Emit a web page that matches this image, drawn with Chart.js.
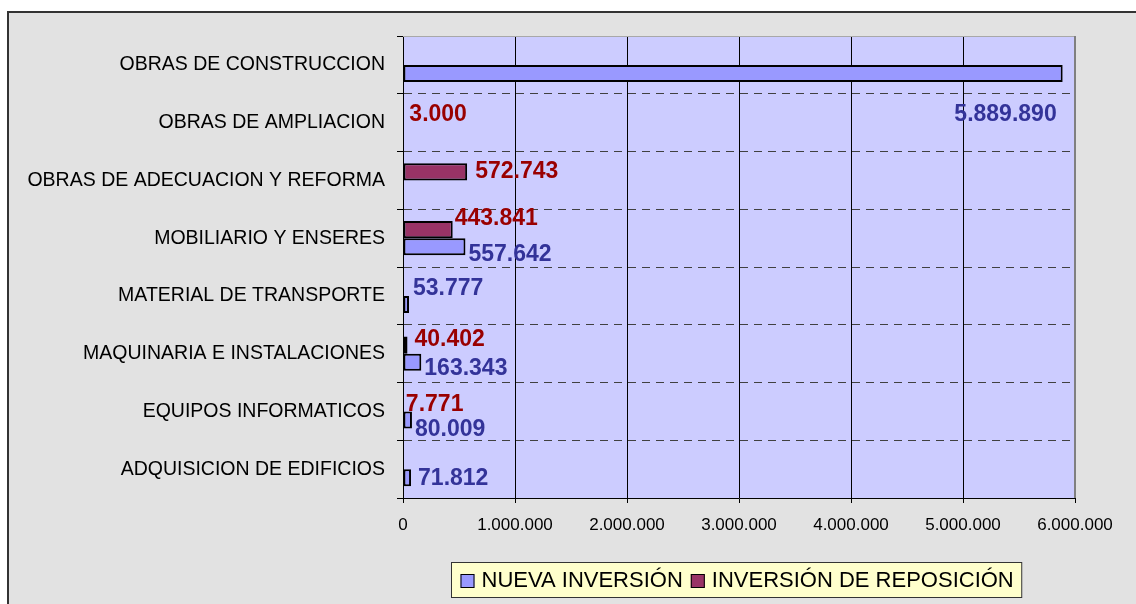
<!DOCTYPE html>
<html><head><meta charset="utf-8">
<script src="https://cdn.jsdelivr.net/npm/chart.js@4.4.1/dist/chart.umd.min.js"></script>
<style>html,body{margin:0;padding:0;background:#fff;overflow:hidden}canvas{display:block}</style>
</head><body>
<canvas id="c" width="1136" height="604"></canvas>
<script>
// ---- data ----
const categories = [
  'OBRAS DE CONSTRUCCION',
  'OBRAS DE AMPLIACION',
  'OBRAS DE ADECUACION Y REFORMA',
  'MOBILIARIO Y ENSERES',
  'MATERIAL DE TRANSPORTE',
  'MAQUINARIA E INSTALACIONES',
  'EQUIPOS INFORMATICOS',
  'ADQUISICION DE EDIFICIOS'
];
const nuevaInversion = [5889890, null, null, 557642, 53777, 163343, 80009, 71812];
const inversionReposicion = [null, 3000, 572743, 443841, null, 40402, 7771, null];
const xTickValues = [0, 1000000, 2000000, 3000000, 4000000, 5000000, 6000000];
const seriesNames = ['NUEVA INVERSIÓN', 'INVERSIÓN DE REPOSICIÓN'];

// ---- helpers ----
const FONT = '"Liberation Sans", Arial, Helvetica, sans-serif';
function fmt(v) { return String(v).replace(/\B(?=(\d{3})+(?!\d))/g, '.'); }

// label nudges (dx from bar end, dy from bar centre, alignment) per dataset
const labelNudges = {
  repos: [[6,0,'left'],[6,1,'left'],[8,0,'left'],[2,-11,'left'],[6,0,'left'],[7,-5,'left'],[2,2,'left'],[6,0,'left']],
  nueva: [[-6,41,'right'],[6,0,'left'],[6,0,'left'],[3,8,'left'],[4,-16,'left'],[3,7,'left'],[3,10,'left'],[7,1,'left']]
};

const framePlugin = {
  id: 'frame',
  beforeDraw(chart) {
    const ctx = chart.ctx, a = chart.chartArea;
    ctx.save();
    ctx.fillStyle = '#ffffff';
    ctx.fillRect(0, 0, chart.width, chart.height);
    ctx.fillStyle = '#e2e2e2';
    ctx.fillRect(8, 11, chart.width - 8, chart.height - 11);
    ctx.strokeStyle = '#333333';
    ctx.lineWidth = 2;
    ctx.beginPath();
    ctx.moveTo(8, chart.height);
    ctx.lineTo(8, 12);
    ctx.lineTo(chart.width, 12);
    ctx.stroke();
    ctx.fillStyle = '#ccccff';
    ctx.fillRect(a.left, a.top, a.right - a.left, a.bottom - a.top);
    ctx.restore();
  },
  afterDraw(chart) {
    const ctx = chart.ctx, a = chart.chartArea;
    ctx.save();
    ctx.strokeStyle = '#a8a8a8';
    ctx.lineWidth = 1;
    ctx.beginPath();
    ctx.moveTo(a.left, a.top + 0.5);
    ctx.lineTo(a.right, a.top + 0.5);
    ctx.stroke();
    ctx.strokeStyle = '#808080';
    ctx.lineWidth = 2;
    ctx.beginPath();
    ctx.moveTo(a.right, a.top);
    ctx.lineTo(a.right, a.bottom);
    ctx.stroke();
    ctx.restore();
  }
};

const valueLabelPlugin = {
  id: 'valueLabels',
  afterDatasetsDraw(chart) {
    const ctx = chart.ctx;
    ctx.save();
    ctx.font = 'bold 23px ' + FONT;
    ctx.textBaseline = 'middle';
    chart.data.datasets.forEach((ds, di) => {
      const meta = chart.getDatasetMeta(di);
      const nudges = labelNudges[ds.key];
      meta.data.forEach((el, i) => {
        const v = ds.data[i];
        if (v === null || v === undefined) return;
        const n = nudges[i];
        ctx.fillStyle = ds.labelColor;
        ctx.textAlign = n[2];
        ctx.fillText(fmt(v), el.x + n[0], el.y + n[1]);
      });
    });
    ctx.restore();
  }
};

const legendPlugin = {
  id: 'boxLegend',
  afterDraw(chart) {
    const ctx = chart.ctx, a = chart.chartArea;
    ctx.save();
    ctx.font = '22px ' + FONT;
    ctx.textBaseline = 'middle';
    const items = chart.data.datasets.slice().reverse();
    const sq = 14, gap = 7, itemGap = 8, padL = 9, padR = 8;
    let w = padL + padR;
    items.forEach((ds, k) => { w += sq + gap + ctx.measureText(ds.label).width + (k ? itemGap : 0); });
    const h = 35;
    const cx = (a.left + a.right) / 2;
    const x0 = Math.round(cx - w / 2) - 2.5, y0 = 562.5;
    ctx.fillStyle = '#ffffcc';
    ctx.fillRect(x0, y0, w, h);
    ctx.strokeStyle = '#333333';
    ctx.lineWidth = 1;
    ctx.strokeRect(x0, y0, w, h);
    let x = x0 + padL;
    const cy = y0 + h / 2 + 1;
    items.forEach((ds, k) => {
      if (k) x += itemGap;
      ctx.fillStyle = ds.backgroundColor;
      ctx.fillRect(x, cy - sq / 2, sq, sq);
      ctx.strokeStyle = '#000';
      ctx.strokeRect(x + 0.5, cy - sq / 2 + 0.5, sq - 1, sq - 1);
      x += sq + gap;
      ctx.fillStyle = '#000';
      ctx.textAlign = 'left';
      ctx.fillText(ds.label, x, cy);
      x += ctx.measureText(ds.label).width;
    });
    ctx.restore();
  }
};

new Chart(document.getElementById('c'), {
  type: 'bar',
  data: {
    labels: categories,
    datasets: [
      { key: 'repos', label: seriesNames[1], data: inversionReposicion,
        backgroundColor: '#993366', borderColor: '#000000', borderWidth: 2,
        borderSkipped: false, labelColor: '#990000' },
      { key: 'nueva', label: seriesNames[0], data: nuevaInversion,
        backgroundColor: '#9999ff', borderColor: '#000000', borderWidth: 2,
        borderSkipped: false, labelColor: '#333399' }
    ]
  },
  options: {
    indexAxis: 'y',
    responsive: false,
    animation: false,
    devicePixelRatio: 1,
    categoryPercentage: 0.59,
    barPercentage: 1.0,
    layout: { padding: { top: 36, right: 61, left: 0, bottom: 66 } },
    plugins: { legend: { display: false }, tooltip: { enabled: false } },
    scales: {
      x: {
        type: 'linear', min: 0, max: 6000000,
        afterBuildTicks(scale) { scale.ticks = xTickValues.map(v => ({ value: v })); },
        afterFit(scale) { scale.height = 40; },
        ticks: { color: '#000', font: { family: FONT, size: 17 }, padding: 12,
                 callback: v => fmt(v), maxRotation: 0, autoSkip: false },
        grid: {
          color: ctx => (ctx.index === xTickValues.length - 1 ? '#808080' : '#000000'),
          lineWidth: 1, tickLength: 5, tickColor: '#000000', drawTicks: true
        },
        border: { display: true, color: '#000000', width: 1 }
      },
      y: {
        type: 'category',
        offset: true,
        afterFit(scale) { scale.width = 403; },
        ticks: { color: '#000', font: { family: FONT, size: 19.5 }, padding: 12, autoSkip: false },
        grid: {
          offset: true,
          color: ctx => (ctx.index === 0 || ctx.index >= categories.length ? 'rgba(0,0,0,0)' : '#404040'),
          lineWidth: 1, tickLength: 6, tickColor: '#000000', drawTicks: true
        },
        border: { display: true, color: '#000000', width: 1, dash: [8, 6] }
      }
    }
  },
  plugins: [framePlugin, valueLabelPlugin, legendPlugin]
});
</script>
</body></html>
